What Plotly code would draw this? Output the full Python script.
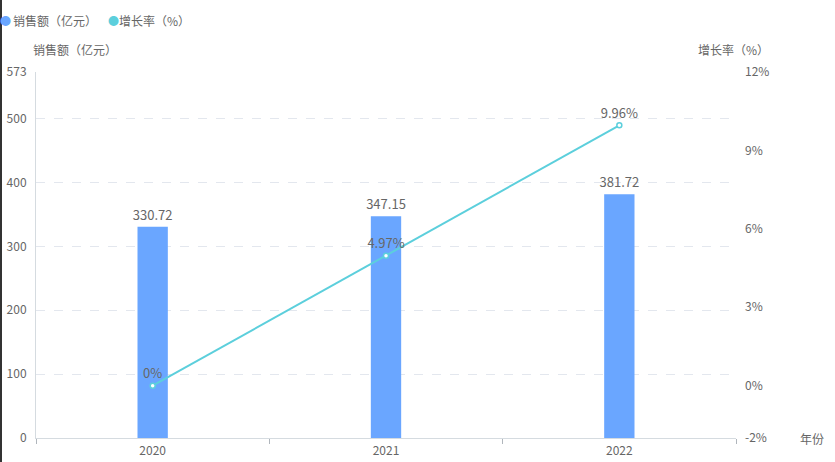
import plotly.graph_objects as go

years = ["2020", "2021", "2022"]
sales = [330.72, 347.15, 381.72]
growth = [0, 4.97, 9.96]
growth_labels = ["0%", "4.97%", "9.96%"]
left_ticks = [0, 100, 200, 300, 400, 500, 573]
right_ticks = [-2, 0, 3, 6, 9, 12]
right_tick_text = ["-2%", "0%", "3%", "6%", "9%", "12%"]

BAR = "#6aa6ff"
LINE = "#5ccfdc"
TXT = "#666666"
FONT = "Noto Sans CJK SC, Noto Sans, sans-serif"

fig = go.Figure()
fig.add_trace(go.Bar(
    x=years, y=sales, name="销售额（亿元）", marker=dict(color=BAR, line=dict(width=0)),
    width=0.13, text=[f"{v:.2f}" for v in sales], textposition="outside",
    constraintext="none",
    textfont=dict(size=13, color=TXT), cliponaxis=False, yaxis="y"))
fig.add_trace(go.Scatter(
    x=years, y=growth, name="增长率（%）", yaxis="y2", mode="lines+markers+text",
    line=dict(color=LINE, width=2),
    marker=dict(symbol="circle", size=5, color="white", line=dict(color=LINE, width=1.5)),
    text=growth_labels, textposition="top center", textfont=dict(size=13, color=TXT),
    cliponaxis=False))

fig.update_layout(
    width=835, height=462,
    margin=dict(l=36, r=99, t=72, b=24, autoexpand=False),
    paper_bgcolor="white", plot_bgcolor="white",
    font=dict(family=FONT, size=12, color=TXT),
    showlegend=False,
    bargap=0.5,
    xaxis=dict(type="category", showline=True, linecolor="#d5dbe0", linewidth=1,
               ticks="outside", tickson="boundaries", ticklen=5, tickcolor="#b0b6bc",
               showgrid=False, tickfont=dict(size=12, color=TXT), ticklabelstandoff=2,
               automargin=False),
    yaxis=dict(range=[0, 573], tickvals=left_ticks, showgrid=True, gridcolor="#e3e7ee",
               griddash="dash", gridwidth=1, zeroline=False, showline=True,
               linecolor="#d5dbe0", linewidth=1, ticks="", tickfont=dict(size=12, color=TXT),
               ticklabelstandoff=6, automargin=False),
    yaxis2=dict(range=[-2, 12], tickvals=right_ticks, ticktext=right_tick_text,
                overlaying="y", side="right", showgrid=False, zeroline=False,
                showline=False, ticks="", tickfont=dict(size=12, color=TXT),
                ticklabelstandoff=8, automargin=False),
)

annos = [
    dict(x=75, y=50, text="销售额（亿元）"),
    dict(x=733, y=50, text="增长率（%）"),
    dict(x=812, y=438, text="年份"),
    dict(x=5, y=20, text=f"<span style='color:{BAR}'>●</span>", size=11),
    dict(x=55, y=20, text="销售额（亿元）"),
    dict(x=113, y=20, text=f"<span style='color:{LINE}'>●</span>", size=11),
    dict(x=154, y=20, text="增长率（%）"),
]
for a in annos:
    fig.add_annotation(
        xref="paper", yref="paper",
        x=(a["x"] - 36) / 700, y=(462 - 24 - a["y"]) / 366,
        text=a["text"], showarrow=False, xanchor="center", yanchor="middle",
        font=dict(size=a.get("size", 12), color=TXT, family=FONT))

fig.add_shape(type="line", xref="paper", yref="paper",
              x0=-35 / 700, x1=-35 / 700, y0=-24 / 366, y1=(462 - 24) / 366,
              line=dict(color="#333333", width=2))

fig.write_html("out.html", config={"displayModeBar": False},
               post_script="document.body.style.margin='0px';")
